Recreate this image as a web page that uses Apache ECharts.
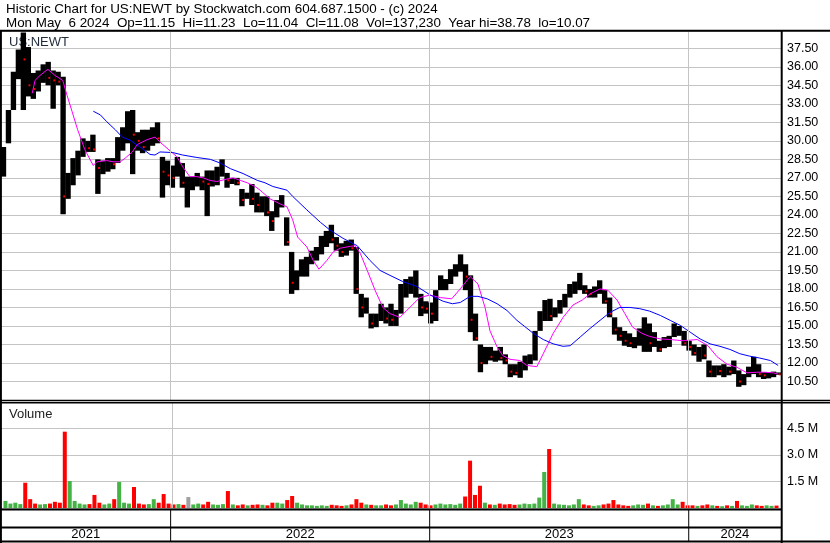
<!DOCTYPE html>
<html>
<head>
<meta charset="utf-8">
<script src="https://cdn.jsdelivr.net/npm/echarts@6/dist/echarts.min.js"></script>
<style>
  html, body { margin: 0; padding: 0; background: #fff; }
  #chart { width: 830px; height: 543px; }
</style>
</head>
<body>
<div id="chart"></div>
<script>
// ---- Chart data: US:NEWT weekly price ranges, volume and moving averages ----
const DAY = 864e5;
const startDate = Date.UTC(2021, 4, 7);
const endDate = Date.UTC(2024, 4, 10);

const symbol = 'US:NEWT';
const lastDay = { date: 'Mon May  6 2024', open: 11.15, high: 11.23, low: 11.04, close: 11.08, volume: 137230 };
const rangeHigh = 38.78;
const rangeLow = 10.07;

// weekly high / low / close, one entry per week from startDate
const weekHigh = [
  29.5, 32.5, 35.6, 37.4, 38.78, 37.6, 35.5, 35.7, 36.2, 36.4,
  35.7, 35.6, 35.2, 27.4, 28.6, 29.2, 30.2, 30.0, 30.5, 28.5,
  28.4, 28.6, 28.6, 30.3, 31.1, 32.4, 32.5, 30.7, 30.9, 30.9,
  31.1, 31.5, 28.7, 28.4, 28.0, 28.7, 28.2, 27.1, 27.1, 27.4,
  27.1, 27.6, 27.6, 27.9, 28.5, 27.4, 27.0, 27.0, 26.1, 25.8,
  26.5, 25.8, 25.5, 25.5, 24.3, 25.2, 25.6, 23.8, 21.0, 19.5,
  20.4, 20.6, 21.1, 21.4, 22.3, 22.7, 23.2, 22.2, 21.7, 21.9,
  22.0, 21.4, 17.6, 17.3, 16.0, 16.0, 16.8, 16.5, 16.8, 16.3,
  18.4, 18.8, 19.0, 19.5, 17.6, 17.0, 16.9, 17.9, 19.1, 18.8,
  19.6, 20.0, 20.8, 20.0, 19.1, 16.0, 13.5, 13.3, 13.3, 13.0,
  13.3, 12.7, 11.9, 11.9, 12.1, 12.6, 12.7, 14.6, 16.2, 17.1,
  17.2, 16.5, 17.1, 17.6, 18.4, 18.6, 19.3, 18.3, 18.0, 18.2,
  18.7, 17.9, 17.3, 15.7, 14.9, 14.6, 14.4, 14.1, 14.8, 15.7,
  15.2, 14.5, 13.8, 14.1, 14.2, 15.2, 15.0, 14.6, 13.8, 13.5,
  13.3, 13.5, 12.2, 11.8, 11.8, 11.9, 11.7, 12.2, 11.4, 11.1,
  11.7, 12.5, 11.9, 11.25, 11.25, 11.3, 11.23
];
const weekLow = [
  27.1, 29.8, 32.5, 35.0, 32.5, 33.6, 33.4, 34.0, 34.7, 34.5,
  32.6, 34.5, 24.05, 25.3, 26.4, 27.2, 28.7, 29.1, 29.1, 25.7,
  27.3, 27.5, 27.7, 28.2, 29.2, 29.8, 27.3, 29.2, 29.0, 29.2,
  29.6, 29.8, 25.4, 26.4, 26.2, 27.1, 26.2, 24.6, 26.0, 26.3,
  26.0, 23.9, 26.3, 26.4, 27.1, 26.2, 26.5, 26.4, 24.7, 25.3,
  24.8, 24.2, 24.2, 23.9, 22.7, 23.8, 24.6, 21.5, 17.6, 17.9,
  19.0, 19.0, 20.0, 20.3, 20.8, 21.4, 21.7, 21.1, 20.6, 20.7,
  21.1, 17.6, 15.7, 16.0, 14.8, 14.9, 15.4, 15.2, 15.0, 15.0,
  16.0, 17.3, 17.6, 17.3, 15.8, 16.0, 15.2, 15.4, 17.9, 17.9,
  18.4, 19.0, 19.4, 17.9, 14.5, 13.8, 11.25, 11.9, 12.2, 12.1,
  12.2, 11.9, 10.85, 11.0, 10.8, 11.4, 11.9, 12.2, 14.6, 15.4,
  15.4, 15.7, 16.0, 16.5, 17.3, 17.6, 17.9, 17.6, 17.3, 17.3,
  17.6, 16.8, 15.7, 14.3, 13.8, 13.4, 13.3, 13.2, 13.4, 12.9,
  12.9, 13.3, 12.9, 13.2, 13.3, 14.1, 14.2, 13.4, 13.0, 12.6,
  12.1, 12.3, 10.85, 10.85, 11.0, 10.85, 11.0, 11.1, 10.07, 10.2,
  10.85, 11.1, 10.85, 10.7, 10.75, 10.85, 11.04
];
const weekClose = [
  29.0, 32.0, 35.0, 37.2, 36.6, 34.5, 34.2, 35.2, 35.8, 35.1,
  34.9, 34.8, 25.5, 27.0, 28.0, 28.8, 29.5, 29.4, 29.3, 27.8,
  28.0, 28.2, 28.1, 29.8, 30.0, 31.8, 30.5, 30.0, 29.5, 30.2,
  30.5, 30.2, 27.5, 27.2, 27.0, 28.0, 26.6, 26.6, 26.8, 27.0,
  26.7, 26.5, 27.1, 27.5, 27.6, 26.8, 26.9, 26.6, 25.2, 25.5,
  25.3, 24.8, 25.0, 24.2, 23.5, 24.8, 24.9, 21.8, 18.5, 19.0,
  19.8, 20.2, 20.8, 21.0, 22.0, 22.5, 22.0, 21.5, 21.0, 21.6,
  21.3, 18.0, 16.5, 16.6, 15.2, 15.5, 16.0, 15.6, 15.5, 15.7,
  18.0, 18.2, 18.3, 18.5, 16.5, 16.4, 16.0, 17.6, 18.5, 18.6,
  19.3, 19.6, 20.5, 19.0, 15.5, 14.0, 12.0, 12.8, 12.5, 12.6,
  12.4, 12.2, 11.3, 11.2, 11.5, 12.0, 12.3, 14.0, 15.8, 16.5,
  15.8, 16.0, 16.8, 17.2, 18.0, 18.1, 18.6, 17.8, 17.6, 17.7,
  18.0, 17.0, 16.0, 14.7, 14.2, 13.8, 13.6, 13.7, 14.2, 14.5,
  13.6, 13.7, 13.1, 13.6, 14.0, 14.6, 14.8, 13.6, 13.3, 12.8,
  13.0, 12.6, 11.3, 11.4, 11.35, 11.5, 11.3, 11.6, 10.5, 10.8,
  11.3, 11.8, 11.1, 11.0, 11.05, 11.1, 11.08
];
// weekly peak daily volume, millions of shares
const weekVolume = [
  0.40, 0.25, 0.30, 0.22, 1.43, 0.50, 0.25, 0.20, 0.22, 0.25,
  0.35, 0.30, 4.32, 1.53, 0.40, 0.25, 0.20, 0.22, 0.74, 0.30,
  0.20, 0.25, 0.50, 1.47, 0.30, 0.25, 1.19, 0.25, 0.20, 0.22,
  0.50, 0.30, 0.79, 0.25, 0.20, 0.22, 0.18, 0.62, 0.20, 0.25,
  0.20, 0.35, 0.20, 0.18, 0.22, 0.96, 0.20, 0.15, 0.20, 0.15,
  0.18, 0.20, 0.18, 0.15, 0.30, 0.30, 0.25, 0.45, 0.68, 0.30,
  0.20, 0.15, 0.15, 0.12, 0.15, 0.12, 0.18, 0.15, 0.12, 0.15,
  0.20, 0.50, 0.30, 0.20, 0.18, 0.15, 0.15, 0.20, 0.15, 0.20,
  0.45, 0.25, 0.20, 0.35, 0.30, 0.20, 0.15, 0.20, 0.25, 0.20,
  0.22, 0.18, 0.25, 0.65, 2.68, 0.74, 1.26, 0.30, 0.20, 0.18,
  0.25, 0.20, 0.22, 0.18, 0.20, 0.25, 0.22, 0.25, 0.59, 2.04,
  3.34, 0.25, 0.20, 0.18, 0.15, 0.20, 0.50, 0.20, 0.15, 0.12,
  0.15, 0.20, 0.25, 0.45, 0.20, 0.15, 0.12, 0.15, 0.20, 0.18,
  0.25, 0.15, 0.12, 0.15, 0.20, 0.50, 0.20, 0.35, 0.15, 0.15,
  0.12, 0.15, 0.20, 0.15, 0.12, 0.10, 0.15, 0.12, 0.40, 0.15,
  0.12, 0.20, 0.15, 0.12, 0.15, 0.12, 0.137
];
// moving averages: [days since startDate, value]
const shortAverage = [
  [44, 33.85], [48, 34.9], [55, 35.3], [66, 35.8], [76, 35.3], [87, 34.9], [93, 33.7], [100, 32.4],
  [108, 30.9], [118, 29.3], [130, 28.0], [135, 28.3], [149, 28.4], [158, 28.3], [168, 28.3], [175, 28.6],
  [185, 29.1], [192, 29.7], [206, 30.1], [217, 30.3], [224, 29.9], [234, 29.4], [248, 28.7], [256, 27.9],
  [266, 27.1], [276, 27.1], [285, 27.0], [294, 26.8], [304, 26.7], [318, 26.9], [327, 27.0], [337, 26.8],
  [347, 26.6], [358, 26.3], [365, 26.0], [369, 25.8], [379, 25.3], [393, 24.9], [403, 24.65], [411, 23.6],
  [418, 22.2], [431, 21.4], [440, 20.3], [448, 19.6], [459, 20.3], [468, 21.0], [478, 21.3], [492, 21.45],
  [499, 21.5], [506, 20.9], [516, 19.5], [527, 17.9], [538, 16.5], [548, 16.0], [562, 15.7], [576, 16.5],
  [590, 17.3], [604, 17.5], [619, 17.3], [635, 17.2], [647, 18.0], [661, 19.0], [672, 18.4], [682, 16.5],
  [689, 14.6], [699, 13.3], [707, 12.6], [717, 12.3], [731, 12.2], [741, 11.8], [755, 11.7], [764, 12.75],
  [778, 14.4], [792, 15.7], [806, 16.7], [819, 17.1], [830, 17.6], [844, 18.0], [855, 17.9], [868, 17.1],
  [879, 16.0], [890, 14.9], [903, 14.4], [914, 14.15], [929, 13.95], [943, 13.9], [961, 13.8], [981, 13.9],
  [996, 13.4], [1009, 12.5], [1023, 11.9], [1037, 11.65], [1051, 11.2], [1065, 11.25], [1076, 11.25],
  [1088, 11.2], [1095, 11.1]
];
const longAverage = [
  [130, 32.4], [140, 32.1], [149, 31.55], [161, 30.9], [171, 30.3], [182, 30.05], [196, 29.5], [210, 28.9],
  [217, 28.85], [224, 29.1], [242, 29.05], [256, 28.85], [276, 28.65], [295, 28.5], [309, 28.2], [323, 27.75],
  [341, 27.35], [361, 26.8], [372, 26.6], [383, 26.3], [403, 26.0], [411, 25.5], [431, 24.4], [450, 23.4],
  [464, 22.75], [482, 22.1], [502, 21.5], [520, 20.3], [534, 19.5], [548, 19.1], [566, 18.6], [586, 18.2],
  [605, 17.5], [623, 17.0], [636, 16.8], [647, 16.9], [661, 17.4], [672, 17.4], [685, 17.2], [699, 16.8],
  [713, 16.25], [727, 15.45], [738, 14.95], [750, 14.4], [764, 13.9], [778, 13.55], [792, 13.35], [802, 13.4],
  [816, 14.1], [830, 14.8], [844, 15.45], [858, 16.1], [872, 16.5], [886, 16.5], [900, 16.4], [914, 16.2],
  [929, 15.85], [943, 15.45], [957, 15.05], [971, 14.5], [985, 13.95], [999, 13.55], [1013, 13.35],
  [1027, 13.1], [1041, 12.75], [1055, 12.55], [1069, 12.4], [1084, 12.2], [1095, 11.8]
];
const years = ['2021', '2022', '2023', '2024'];
const yearBreaks = [Date.UTC(2022, 0, 1), Date.UTC(2023, 0, 1), Date.UTC(2024, 0, 1)];
const priceAxis = { min: 9, max: 38.9, interval: 1.5 };
const volumeAxis = { min: 0, max: 6, interval: 1.5 };

// ---- Build series data ----
const FONT = 'Arial, "Liberation Sans", sans-serif';
const UP = '#44b244', DOWN = '#ff0000', FLAT = '#a0a0a0';
const weekTime = i => startDate + (7 * i + 3.5) * DAY;
const direction = i => (i === 0 ? 1 : Math.sign(weekClose[i] - weekClose[i - 1]));

const priceData = weekHigh.map((h, i) => [weekTime(i), h, weekLow[i], weekClose[i], direction(i) < 0 ? 1 : 0]);
const volumeData = weekVolume.map((v, i) => {
  const d = direction(i);
  return { value: [weekTime(i), v], itemStyle: { color: d > 0 ? UP : d < 0 ? DOWN : FLAT } };
});
const toTime = pts => pts.map(p => [startDate + p[0] * DAY, p[1]]);
const yearSpans = years.map((y, k) => [k === 0 ? startDate : yearBreaks[k - 1], k < yearBreaks.length ? yearBreaks[k] : endDate]);

const yearLines = {
  silent: true,
  symbol: ['none', 'none'],
  label: { show: false },
  lineStyle: { color: '#c4c4c4', type: 'solid', width: 1 },
  data: yearBreaks.map(t => ({ xAxis: t }))
};

const line1 = 'Historic Chart for ' + symbol + ' by Stockwatch.com 604.687.1500 - (c) 2024';
const line2 = lastDay.date + '  Op=' + lastDay.open.toFixed(2) + '  Hi=' + lastDay.high.toFixed(2) +
  '  Lo=' + lastDay.low.toFixed(2) + '  Cl=' + lastDay.close.toFixed(2) +
  '  Vol=' + lastDay.volume.toLocaleString('en-US') + '  Year hi=' + rangeHigh.toFixed(2) + '  lo=' + rangeLow.toFixed(2);

const frame = (x1, y1, x2, y2, w) => ({
  type: 'line', silent: true, z: 100,
  shape: { x1, y1, x2, y2 }, style: { stroke: '#000', lineWidth: w }
});
const label = (text, x, y, size, color, z) => ({
  type: 'text', silent: true, z, x, y,
  style: { text, font: size + 'px ' + FONT, fill: color, verticalAlign: 'middle' }
});

const gridBox = { left: 1, width: 780 };
const timeAxis = idx => ({ type: 'time', gridIndex: idx, min: startDate, max: endDate, show: false });
const axisText = { color: '#000', fontFamily: FONT, fontSize: 12.5, margin: 6, showMinLabel: false, showMaxLabel: false };

const chart = echarts.init(document.getElementById('chart'), null, { renderer: 'canvas' });
chart.setOption({
  animation: false,
  backgroundColor: '#fff',
  grid: [
    Object.assign({ top: 31, height: 369 }, gridBox),
    Object.assign({ top: 402, height: 106 }, gridBox),
    Object.assign({ top: 510, height: 31 }, gridBox)
  ],
  xAxis: [timeAxis(0), timeAxis(1), timeAxis(2)],
  yAxis: [
    {
      type: 'value', gridIndex: 0, position: 'right', min: priceAxis.min, max: priceAxis.max, interval: priceAxis.interval,
      axisLine: { show: false }, axisTick: { show: false },
      axisLabel: Object.assign({ formatter: v => v.toFixed(2) }, axisText),
      splitLine: { lineStyle: { color: '#c4c4c4', width: 1 } }
    },
    {
      type: 'value', gridIndex: 1, position: 'right', min: volumeAxis.min, max: volumeAxis.max, interval: volumeAxis.interval,
      axisLine: { show: false }, axisTick: { show: false },
      axisLabel: Object.assign({ formatter: v => v.toFixed(1) + ' M' }, axisText),
      splitLine: { lineStyle: { color: '#c4c4c4', width: 1 } }
    },
    { type: 'value', gridIndex: 2, min: 0, max: 1, show: false }
  ],
  series: [
    { type: 'line', xAxisIndex: 0, yAxisIndex: 0, data: [], z: 1, markLine: yearLines },
    {
      type: 'custom', xAxisIndex: 0, yAxisIndex: 0, z: 2, data: priceData,
      renderItem: (params, api) => {
        const t = api.value(0);
        const top = api.coord([t, api.value(1)]);
        const bottom = api.coord([t, api.value(2)]);
        const w = api.size([7 * DAY, 0])[0] + 0.4;
        const children = [{
          type: 'rect',
          shape: { x: top[0] - w / 2, y: top[1], width: w, height: Math.max(1, bottom[1] - top[1]) },
          style: { fill: '#000' }
        }];
        if (api.value(4)) {
          const c = api.coord([t, api.value(3)]);
          children.push({ type: 'rect', shape: { x: top[0] + w / 2 - 2.5, y: c[1] - 1, width: 2, height: 2 }, style: { fill: DOWN } });
        }
        return { type: 'group', children };
      }
    },
    {
      type: 'line', xAxisIndex: 0, yAxisIndex: 0, z: 3, data: toTime(shortAverage),
      showSymbol: false, lineStyle: { color: '#ff00ff', width: 1 }
    },
    {
      type: 'line', xAxisIndex: 0, yAxisIndex: 0, z: 3, data: toTime(longAverage),
      showSymbol: false, lineStyle: { color: '#0000ff', width: 1 }
    },
    { type: 'line', xAxisIndex: 1, yAxisIndex: 1, data: [], z: 1, markLine: yearLines },
    { type: 'bar', xAxisIndex: 1, yAxisIndex: 1, z: 2, barWidth: 4, data: volumeData },
    {
      type: 'custom', xAxisIndex: 2, yAxisIndex: 2, clip: false, data: yearSpans,
      renderItem: (params, api) => {
        const a = api.coord([api.value(0), 1]);
        const b = api.coord([api.value(1), 0]);
        const children = [{
          type: 'text',
          style: {
            text: years[params.dataIndex], x: (a[0] + b[0]) / 2, y: b[1] - 6.5,
            align: 'center', verticalAlign: 'middle', font: '13px ' + FONT, fill: '#000'
          }
        }];
        if (params.dataIndex > 0) {
          children.push({ type: 'line', shape: { x1: a[0], y1: a[1], x2: a[0], y2: b[1] }, style: { stroke: '#000', lineWidth: 1 } });
        }
        return { type: 'group', children };
      }
    }
  ],
  graphic: [
    label(line1, 6, 9, 13.4, '#000', 100),
    label(line2, 6, 23.3, 13.4, '#000', 100),
    label(symbol, 9, 42, 13, '#1f2a3a', 0),
    label('Volume', 9, 414, 13, '#222', 0),
    frame(0, 30.8, 830, 30.8, 2),
    frame(0.9, 30, 0.9, 543, 2),
    frame(781.7, 30, 781.7, 543, 2),
    frame(0, 400.5, 830, 400.5, 1.5),
    frame(0, 402.8, 830, 402.8, 1.5),
    frame(0, 509.5, 782, 509.5, 2),
    frame(0, 527.5, 782, 527.5, 2),
    frame(0, 541.6, 830, 541.6, 2)
  ]
});
</script>
</body>
</html>
